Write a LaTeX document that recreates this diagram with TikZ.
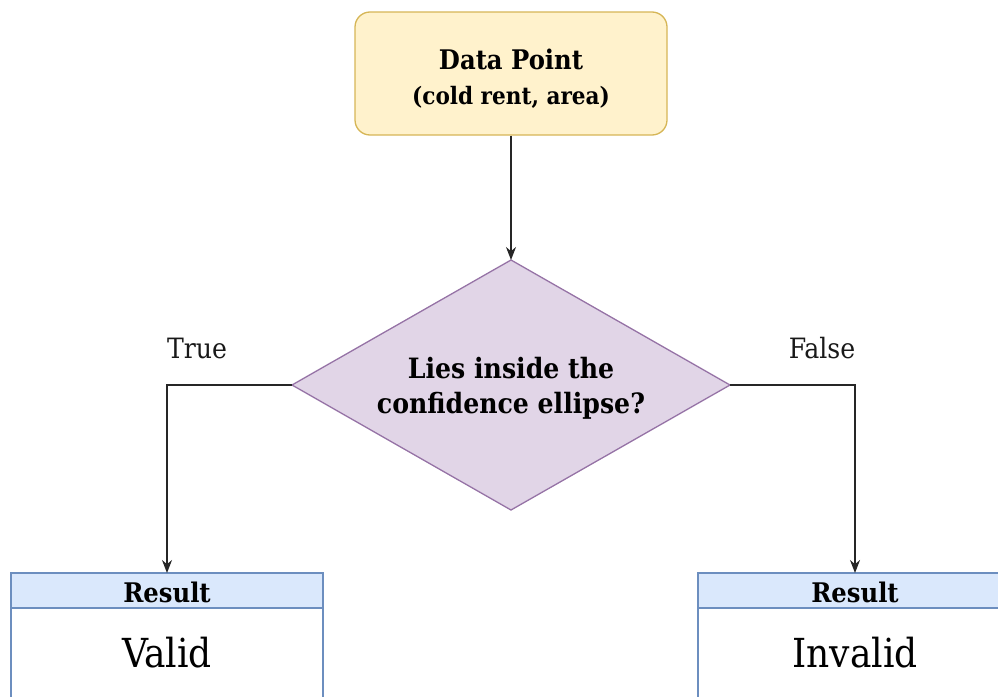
\documentclass[tikz,border=0pt]{standalone}
\usepackage{fontspec}
\setmainfont{DejaVu Serif Condensed}
\usetikzlibrary{shapes.geometric,arrows.meta}
\definecolor{yfill}{HTML}{FFF2CC}
\definecolor{ydraw}{HTML}{D6B656}
\definecolor{pfill}{HTML}{E1D5E7}
\definecolor{pdraw}{HTML}{9673A6}
\definecolor{bfill}{HTML}{DAE8FC}
\definecolor{bdraw}{HTML}{6C8EBF}
\tikzset{
  conn/.style={draw=black!85, line width=1.3pt, -{Stealth[length=13pt,width=10pt]}},
  lbl/.style={font=\fontsize{28}{32}\selectfont, text=black!90},
  hdr/.style={draw=bdraw, fill=bfill, line width=1.3pt},
  bodybox/.style={draw=bdraw, fill=white, line width=1.3pt},
}
\begin{document}
\begin{tikzpicture}[x=1pt,y=-1pt]
\useasboundingbox (0,0) rectangle (998,696);
% Data point
\node[draw=ydraw, fill=yfill, line width=1.3pt, rounded corners=15pt,
  minimum width=312pt, minimum height=123pt, inner sep=0pt] (dp) at (511,73.5) {};
\node[align=center, inner sep=0pt, font=\bfseries\fontsize{27}{35}\selectfont] (dpt)
  at ([yshift=-5pt]dp.center)
  {Data Point\\{\fontsize{24}{35}\selectfont (cold rent, area)}};
% Diamond
\coordinate (dtop) at (511,260);
\coordinate (dleft) at (292,385);
\coordinate (dright) at (730,385);
\coordinate (dbot) at (511,510);
\draw[draw=pdraw, fill=pfill, line width=1.3pt] (dtop) -- (dright) -- (dbot) -- (dleft) -- cycle;
\node[align=center, font=\bfseries\fontsize{28}{35}\selectfont] (q) at (511,388)
  {Lies inside the\\confidence ellipse?};
% Result boxes
\draw[bodybox] (11,608) rectangle (323,700);
\draw[hdr] (11,573) rectangle (323,608);
\draw[bodybox] (698,608) rectangle (1002,700);
\draw[hdr] (698,573) rectangle (1002,608);
\node[font=\bfseries\fontsize{27}{30}\selectfont] (r1) at (167,592) {Result};
\node[font=\fontsize{40}{44}\selectfont] (v1) at (167,653) {Valid};
\node[font=\bfseries\fontsize{27}{30}\selectfont] (r2) at (855,592) {Result};
\node[font=\fontsize{40}{44}\selectfont] (v2) at (855,653) {Invalid};
\coordinate (t1) at (167,573);
\coordinate (t2) at (855,573);
% connectors
\draw[conn] (dp.south) -- (dtop);
\draw[conn] (dleft) -| (t1);
\draw[conn] (dright) -| (t2);
\node[lbl] (tl) at (197,348) {True};
\node[lbl] (fl) at (822,348) {False};
\end{tikzpicture}
\end{document}
